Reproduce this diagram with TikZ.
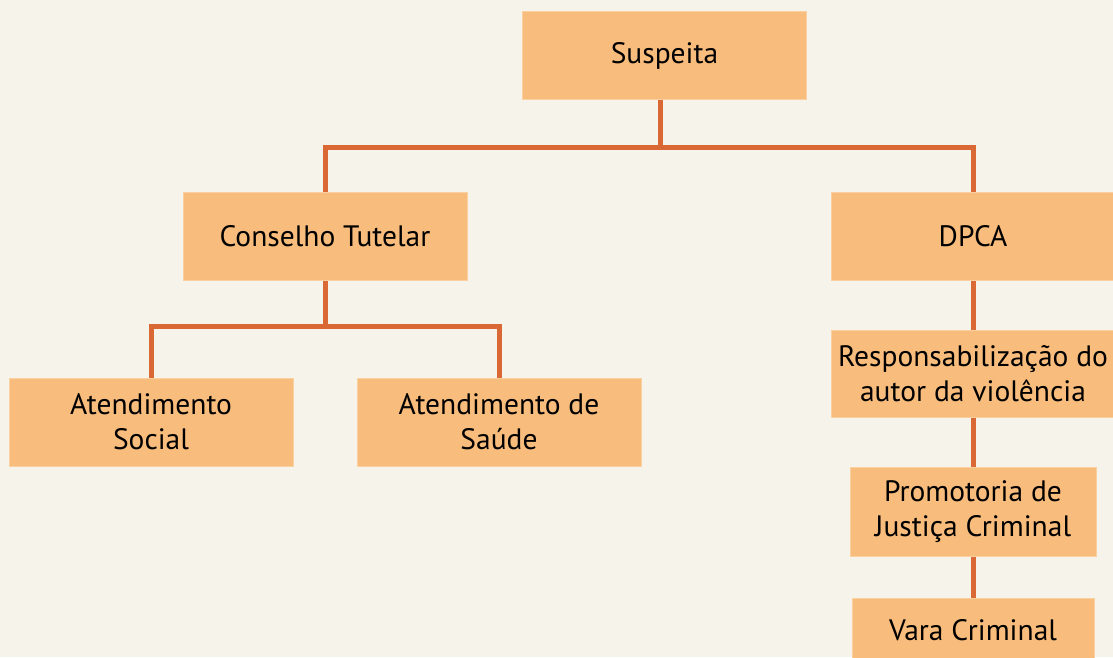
\documentclass[tikz,border=0pt]{standalone}
\usepackage{fontspec}
\setmainfont{PT Sans}
\definecolor{fundo}{RGB}{246,243,235}
\definecolor{caixa}{RGB}{248,188,124}
\definecolor{borda}{RGB}{250,208,160}
\definecolor{linha}{RGB}{217,104,52}
\tikzset{
	caixa/.style={fill=caixa, draw=borda, line width=1pt, minimum width=284pt, minimum height=88pt,
		align=center, inner sep=0pt, font=\fontsize{29.5}{35}\selectfont},
	ligacao/.style={draw=linha, line width=5pt, line join=miter},
}
\begin{document}
\begin{tikzpicture}[x=1pt,y=-1pt]
	\clip (0,0) rectangle (1113,657);
	\fill[fundo] (0,0) rectangle (1113,657);
	\node[caixa] (suspeita) at (664.5,55.5) {Suspeita};
	\node[caixa] (conselho) at (325,236.5) {Conselho Tutelar};
	\node[caixa] (dpca) at (973,236.5) {DPCA};
	\node[caixa] (social) at (151,422) {Atendimento\\Social};
	\node[caixa] (saude) at (499,422) {Atendimento de\\Sa\'ude};
	\node[caixa, minimum height=87pt] (resp) at (973,373.5) {Responsabiliza\c{c}\~ao do\\autor da viol\^encia};
	\node[caixa, minimum width=246pt, minimum height=89pt] (promotoria) at (973,511.5) {Promotoria de\\Justi\c{c}a Criminal};
	\node[caixa, minimum width=242pt, minimum height=64pt] (vara) at (973,630) {Vara Criminal};
	% ligacoes
	\coordinate (j1) at (660,147);
	\coordinate (j2) at (325,326);
	\draw[ligacao] (suspeita.south -| j1) -- (j1);
	\draw[ligacao] (conselho.north) |- (j1) -| (dpca.north);
	\draw[ligacao] (conselho.south) -- (j2);
	\draw[ligacao] (social.north) |- (j2) -| (saude.north);
	\draw[ligacao] (dpca.south) -- (resp.north);
	\draw[ligacao] (resp.south) -- (promotoria.north);
	\draw[ligacao] (promotoria.south) -- (vara.north);
\end{tikzpicture}
\end{document}
